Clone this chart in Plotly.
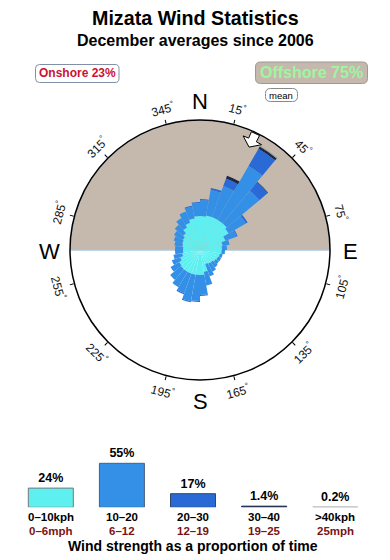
import math
import plotly.graph_objects as go

W, H = 390, 560
FONT = "Liberation Sans, Arial, sans-serif"

# ---------------- data ----------------
title_text = "Mizata Wind Statistics"
subtitle_text = "December averages since 2006"
onshore_pct = 23
offshore_pct = 75

dir_bins = list(range(5, 360, 10))  # bin centres (deg), 10 deg wide
# radial extent of each speed band per direction bin (stacked), chart units (outer ring = 130)
r_0_10 = [34, 35, 35, 35, 35, 33, 27, 23, 22, 21.5, 20, 19, 18, 16.5, 16, 15, 22, 25,
          25, 25, 25, 25, 25, 24, 21, 18, 17, 17, 18, 19, 20, 22, 26, 29, 32, 34]
r_10_20 = [16, 26, 33, 62, 42.5, 20, 12, 7, 5, 3.5, 3, 3.5, 4, 6.5, 9, 13, 14, 20,
           26, 27, 21, 18, 14, 10, 9, 9, 8, 8, 8, 9, 10, 11, 11, 12, 12, 13]
r_20_30 = [1, 2, 8, 20, 11, 2, 1, 0, 0, 0, 0, 0, 0, 0, 0, 0, 0, 1,
           1, 1, 1, 0, 0, 0, 0, 0, 0, 0, 0, 0, 0, 0, 0, 0, 1, 1]
r_30_40 = [0, 0, 3, 2.5, 0.5, 0, 0, 0, 0, 0, 0, 0, 0, 0, 0, 0, 0, 0,
           0, 0, 0, 0, 0, 0, 0, 0, 0, 0, 0, 0, 0, 0, 0, 0, 0, 0]
r_40p = [0, 0, 0, 1, 0, 0, 0, 0, 0, 0, 0, 0, 0, 0, 0, 0, 0, 0,
         0, 0, 0, 0, 0, 0, 0, 0, 0, 0, 0, 0, 0, 0, 0, 0, 0, 0]
ring_max = 130
mean_dir = 25.5

speed_kph = ["0–10kph", "10–20", "20–30", "30–40", ">40kph"]
speed_mph = ["0–6mph", "6–12", "12–19", "19–25", "25mph"]
speed_pct = [24, 55, 17, 1.4, 0.2]

tick_angles = [15, 45, 75, 105, 135, 165, 195, 225, 255, 285, 315, 345]
cardinal_names = ["N", "E", "S", "W"]
cardinal_angles = [0, 90, 180, 270]

# ---------------- styles ----------------
band_colors = ["#5ef0f0", "#3390e6", "#2a6ad6", "#1c2848", "#9a9a9a"]
band_lines = ["#777777", "#4a5f80", "#334466", "#1c2848", "#9a9a9a"]
tan = "#c4b9ac"
CX, CY, R = 200, 250, 130   # polar centre / radius in pixels


def px(x, y):
    return x / W, 1 - y / H


def rrect(x0, y0, x1, y1, r):
    def P(x, y):
        a, b = px(x, y)
        return f"{a:.5f},{b:.5f}"
    return (f"M{P(x0 + r, y0)} L{P(x1 - r, y0)} Q{P(x1, y0)} {P(x1, y0 + r)} "
            f"L{P(x1, y1 - r)} Q{P(x1, y1)} {P(x1 - r, y1)} L{P(x0 + r, y1)} "
            f"Q{P(x0, y1)} {P(x0, y1 - r)} L{P(x0, y0 + r)} Q{P(x0, y0)} {P(x0 + r, y0)} Z")


fig = go.Figure()

# offshore half (tan) as a background sector
fig.add_trace(go.Barpolar(r=[ring_max], theta=[0], width=[180], base=0,
                          marker=dict(color=tan, line=dict(color="#a9c6e0", width=1.5)),
                          hoverinfo="skip", showlegend=False))

for vals, col in zip([r_0_10, r_10_20, r_20_30, r_30_40, r_40p], band_colors):
    fig.add_trace(go.Barpolar(r=vals, theta=dir_bins, width=[10] * len(dir_bins),
                              marker=dict(color=col, line=dict(width=0)),
                              showlegend=False))

# mean-direction arrow (points toward centre)
m = mean_dir
arrow_r = [114, 122, 122, 129, 129, 122, 122, 114]
arrow_t = [m, m - 4.8, m - 2, m - 2, m + 2, m + 2, m + 4.8, m]
fig.add_trace(go.Scatterpolar(r=arrow_r, theta=arrow_t, mode="lines", fill="toself",
                              fillcolor="white", line=dict(color="black", width=1),
                              showlegend=False, hoverinfo="skip"))

fig.update_layout(
    polar=dict(
        domain=dict(x=[(CX - R) / W, (CX + R) / W], y=[1 - (CY + R) / H, 1 - (CY - R) / H]),
        bgcolor="white",
        barmode="stack",
        bargap=0,
        radialaxis=dict(range=[0, ring_max], visible=False, showgrid=False),
        angularaxis=dict(rotation=90, direction="clockwise", showgrid=False,
                         showline=True, linecolor="black", linewidth=1.5,
                         ticks="outside", ticklen=4, tickwidth=1, tickcolor="black",
                         tickmode="array", tickvals=tick_angles, showticklabels=False),
    )
)

# speed histogram
fig.add_trace(go.Bar(x=list(range(len(speed_pct))), y=speed_pct, width=0.633,
                     marker=dict(color=band_colors, line=dict(color=band_lines, width=1)),
                     text=[f"<b>{v:g}%</b>" for v in speed_pct], textposition="outside",
                     constraintext="none", cliponaxis=False,
                     textfont=dict(family=FONT, size=12.5, color="black"),
                     xaxis="x", yaxis="y", showlegend=False))

fig.update_layout(
    xaxis=dict(domain=[15.25 / W, 370.8 / W], range=[-0.5, 4.5], visible=False),
    yaxis=dict(domain=[1 - 507.3 / H, 1 - 459.3 / H], range=[0, 60], visible=False),
)

ann = []
def text_at(x, y, t, size, color="black", bold=True, angle=0):
    a, b = px(x, y)
    ann.append(dict(x=a, y=b, xref="paper", yref="paper", text=f"<b>{t}</b>" if bold else t,
                    showarrow=False, xanchor="center", yanchor="middle", textangle=angle,
                    font=dict(family=FONT, size=size, color=color)))

text_at(195, 18, title_text, 19.7)
text_at(195, 41, subtitle_text, 16)
text_at(77.2, 73.5, f"Onshore {onshore_pct}%", 12, color="#cc1133")
text_at(311.6, 73, f"Offshore {offshore_pct}%", 16, color="#a0f5a0")
text_at(281.4, 95, "mean", 9.5, bold=False)

for a in tick_angles:
    rad = math.radians(a)
    x = CX + 146 * math.sin(rad)
    y = CY - 146 * math.cos(rad)
    ang = ((a + 90) % 180) - 90
    text_at(x, y, f"{a}<sup>°</sup>", 12, color="#111111", bold=False, angle=ang)

for name, a in zip(cardinal_names, cardinal_angles):
    rad = math.radians(a)
    x = CX + 150 * math.sin(rad)
    y = CY - 150 * math.cos(rad) + 1.5
    text_at(x, y, name, 22, bold=False)

for i, (k, mph) in enumerate(zip(speed_kph, speed_mph)):
    ann.append(dict(x=i, y=1 - 517 / H, xref="x", yref="paper", text=f"<b>{k}</b>",
                    showarrow=False, xanchor="center", yanchor="middle",
                    font=dict(family=FONT, size=11.5, color="black")))
    ann.append(dict(x=i, y=1 - 530.5 / H, xref="x", yref="paper", text=f"<b>{mph}</b>",
                    showarrow=False, xanchor="center", yanchor="middle",
                    font=dict(family=FONT, size=11.5, color="#7a1414")))

text_at(193, 546, "Wind strength as a proportion of time", 14)

shapes = [
    dict(type="path", path=rrect(35.5, 64.5, 119, 82.5, 4), xref="paper", yref="paper",
         line=dict(color="#8090a8", width=1), fillcolor="white", layer="below"),
    dict(type="path", path=rrect(255.5, 62, 367.5, 83.5, 5), xref="paper", yref="paper",
         line=dict(color="#9a9a9a", width=1), fillcolor=tan, layer="below"),
    dict(type="path", path=rrect(265.5, 88.5, 297.5, 101.5, 5), xref="paper", yref="paper",
         line=dict(color="#888888", width=1), fillcolor="white", layer="below"),
]

fig.update_layout(width=W, height=H, autosize=False,
                  margin=dict(l=0, r=0, t=0, b=0),
                  paper_bgcolor="white", plot_bgcolor="white",
                  annotations=ann, shapes=shapes, showlegend=False,
                  font=dict(family=FONT))

fig.write_html("out.html", config={"displayModeBar": False})
